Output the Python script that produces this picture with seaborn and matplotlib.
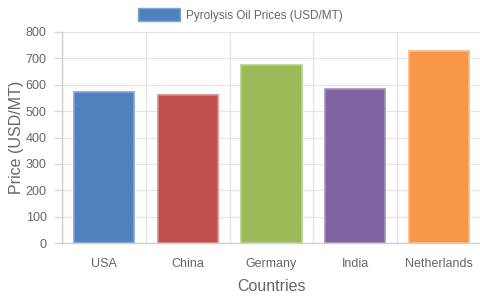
import matplotlib
matplotlib.use("Agg")
import matplotlib.pyplot as plt
import matplotlib.patches as mpatches
import seaborn as sns
import pandas as pd
import numpy as np

countries = ["USA", "China", "Germany", "India", "Netherlands"]
prices = [572, 560, 674, 584, 729]
colors = ["#4F81BD", "#C0504D", "#9BBB59", "#8064A2", "#F79646"]
edge_colors = ["#7FA3D3", "#D98583", "#B8D08A", "#A48FC0", "#FAB886"]
series_label = "Pyrolysis Oil Prices (USD/MT)"
y_ticks = [0, 100, 200, 300, 400, 500, 600, 700, 800]

df = pd.DataFrame({"Country": countries, "Price": prices})

sns.set_theme(style="white")
plt.rcParams['font.family'] = ['Liberation Sans', 'DejaVu Sans']

fig = plt.figure(figsize=(4.81, 3.0), dpi=100)
ax = fig.add_axes([62/481, 1 - 243/300, 419/481, 211/300])

sns.barplot(data=df, x="Country", y="Price", hue="Country", palette=colors,
            legend=False, width=0.72, ax=ax, saturation=1)
for patch, ec in zip(ax.patches, edge_colors):
    patch.set_edgecolor(ec)
    patch.set_linewidth(1.2)

ax.set_ylim(0, 800)
ax.set_xlim(-0.5, 4.5)
ax.set_yticks(y_ticks)
ax.set_yticklabels([str(t) for t in y_ticks])

grid_c = "#e5e5e5"
for y in y_ticks[1:]:
    ax.axhline(y, color=grid_c, lw=0.9, zorder=0)
for x in np.arange(-0.5, 5.0, 1.0):
    ax.axvline(x, color=grid_c, lw=0.9, zorder=0)
ax.set_axisbelow(True)

for s in ["top", "right"]:
    ax.spines[s].set_visible(False)
ax.spines["left"].set_color("#d0d0d0")
ax.spines["bottom"].set_color("#d0d0d0")
ax.spines["left"].set_linewidth(1)
ax.spines["bottom"].set_linewidth(1)

ax.set_xticks(np.arange(-0.5, 5.0, 1.0), minor=True)
ax.tick_params(axis="x", which="minor", length=7, color="#d8d8d8", width=1)
ax.tick_params(axis="x", which="major", length=0, pad=11, labelsize=9, labelcolor="#666666")
ax.tick_params(axis="y", which="major", left=True, length=6, color="#d8d8d8", width=1,
               pad=5, labelsize=9, labelcolor="#666666")

ax.set_xlabel("Countries", fontsize=11.5, color="#666666", labelpad=6)
ax.set_ylabel("Price (USD/MT)", fontsize=11.5, color="#666666", labelpad=1)

handle = mpatches.Patch(facecolor=colors[0], edgecolor=edge_colors[0], label=series_label)
fig.legend(handles=[handle], loc="center", bbox_to_anchor=(0.5, 1 - 15/300),
           frameon=False, fontsize=8.5, handlelength=3.6, handleheight=1.2,
           handletextpad=0.5, labelcolor="#666666")

fig.savefig("out.png", dpi=100)
